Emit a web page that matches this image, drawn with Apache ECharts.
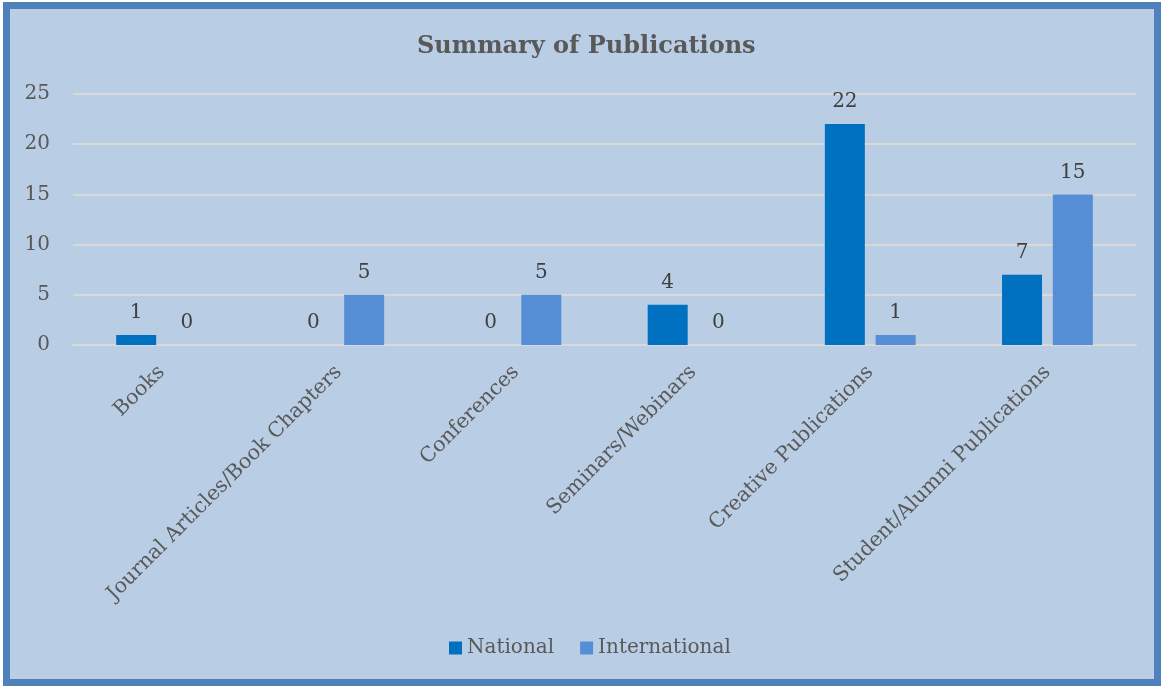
<!DOCTYPE html>
<html><head><meta charset="utf-8">
<script src="https://cdn.jsdelivr.net/npm/echarts@6/dist/echarts.min.js"></script>
<style>
html,body{margin:0;padding:0;background:#fff;}
#frame{position:absolute;left:3px;top:2px;width:1158px;height:684px;box-sizing:border-box;border:7px solid #4f81bd;background:#b9cde5;}
#chart{position:absolute;left:0;top:0;width:1163px;height:686px;}
</style></head>
<body>
<div id="frame"></div>
<div id="chart"></div>
<script>
const categories = ["Books","Journal Articles/Book Chapters","Conferences","Seminars/Webinars","Creative Publications","Student/Alumni Publications"];
const nationalValues = [1,0,0,4,22,7];
const internationalValues = [0,5,5,0,1,15];
const yTicks = [0,5,10,15,20,25];

const FONT = "DejaVu Serif";
const chart = echarts.init(document.getElementById('chart'));
chart.setOption({
  backgroundColor: 'transparent',
  animation: false,
  textStyle: {fontFamily: FONT},
  title: {text: 'Summary of Publications', left: 412, top: 30,
    textStyle: {fontFamily: FONT, fontSize: 24, fontWeight: 'bold', color: '#595959'}},
  legend: {bottom: 23, left: 444, itemWidth: 13, itemHeight: 13, itemGap: 26,
    icon: 'rect',
    textStyle: {fontFamily: FONT, fontSize: 20, color: '#595959'},
    data: ['National','International']},
  grid: {left: 73, right: 27, top: 94, height: 251, containLabel: false},
  xAxis: {type: 'category', data: categories,
    axisLine: {show: true, lineStyle: {color: '#d9d9d9', width: 2}},
    axisTick: {show: false},
    axisLabel: {rotate: 45, interval: 0, margin: 24, fontFamily: FONT, fontSize: 20.5, color: '#595959'}},
  yAxis: {type: 'value', min: yTicks[0], max: yTicks[yTicks.length-1], interval: 5,
    axisLine: {show: false}, axisTick: {show: false},
    splitLine: {lineStyle: {color: '#d9d9d9', width: 2}},
    axisLabel: {margin: 23, fontFamily: FONT, fontSize: 20, color: '#595959'}},
  series: [
    {name: 'National', type: 'bar', data: nationalValues, barWidth: 40, barGap: '27%',
      itemStyle: {color: '#0070c0'},
      label: {show: true, position: 'top', distance: 12, fontFamily: FONT, fontSize: 20, color: '#404040'}},
    {name: 'International', type: 'bar', data: internationalValues, barWidth: 40,
      itemStyle: {color: '#558ed5'},
      label: {show: true, position: 'top', distance: 12, fontFamily: FONT, fontSize: 20, color: '#404040'}}
  ]
});
</script>
</body></html>
